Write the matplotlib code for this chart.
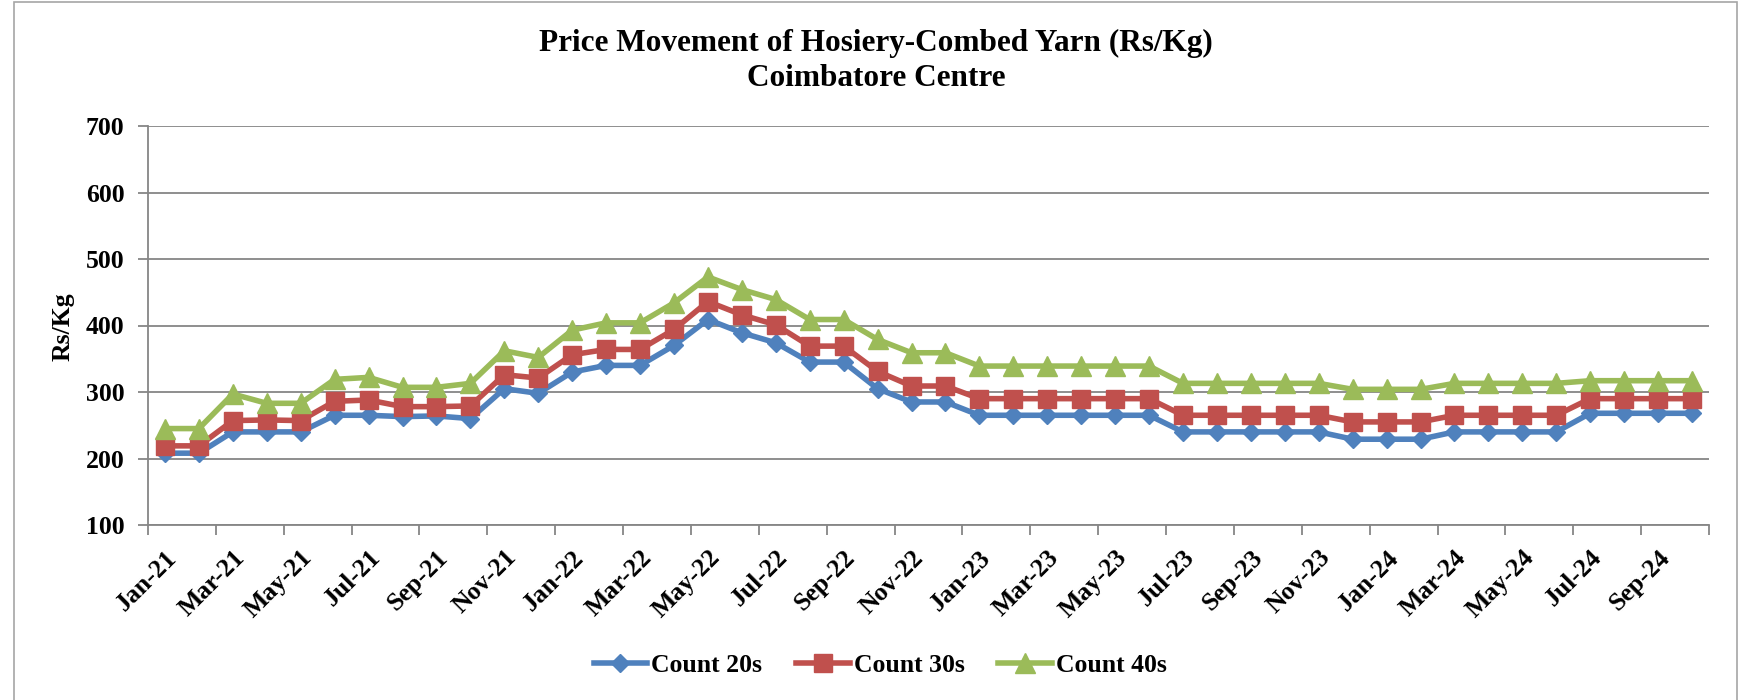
import matplotlib
matplotlib.use("Agg")
import matplotlib.pyplot as plt
from matplotlib.patches import Rectangle
import numpy as np

months = ["Jan-21","Feb-21","Mar-21","Apr-21","May-21","Jun-21","Jul-21","Aug-21","Sep-21","Oct-21","Nov-21","Dec-21",
          "Jan-22","Feb-22","Mar-22","Apr-22","May-22","Jun-22","Jul-22","Aug-22","Sep-22","Oct-22","Nov-22","Dec-22",
          "Jan-23","Feb-23","Mar-23","Apr-23","May-23","Jun-23","Jul-23","Aug-23","Sep-23","Oct-23","Nov-23","Dec-23",
          "Jan-24","Feb-24","Mar-24","Apr-24","May-24","Jun-24","Jul-24","Aug-24","Sep-24","Oct-24"]

count20 = [208, 208, 240, 240, 240, 265, 265, 263, 264, 260, 305, 298,
           330, 340, 340, 370, 409, 389, 374, 345, 345, 305, 285, 285,
           265, 265, 265, 265, 265, 265, 240, 240, 240, 240, 240, 229,
           229, 229, 240, 240, 240, 240, 268, 268, 268, 268]
count30 = [219, 219, 257, 258, 257, 286, 288, 278, 278, 279, 326, 321,
           356, 364, 364, 394, 436, 416, 401, 369, 369, 331, 309, 309,
           290, 290, 290, 290, 290, 290, 265, 265, 265, 265, 265, 255,
           255, 255, 265, 265, 265, 265, 290, 290, 290, 290]
count40 = [245, 245, 297, 283, 283, 319, 322, 307, 307, 313, 362, 352,
           393, 404, 404, 434, 473, 454, 439, 409, 409, 379, 359, 359,
           339, 339, 339, 339, 339, 339, 313, 313, 313, 313, 313, 304,
           304, 304, 313, 313, 313, 313, 317, 317, 317, 317]

series_names = ["Count 20s", "Count 30s", "Count 40s"]
yticks = [100, 200, 300, 400, 500, 600, 700]

plt.rcParams['font.family'] = ['Liberation Serif', 'DejaVu Serif']
plt.rcParams['font.weight'] = 'bold'

W, H = 1746, 700
FS = 18.5
fig = plt.figure(figsize=(W/100, H/100), dpi=100)
fig.patch.set_facecolor('white')

# chart border
fig.patches.append(Rectangle((14/W, -0.02), (1737-14)/W, 1.0 - 2/H + 0.02,
                             transform=fig.transFigure, fill=False,
                             edgecolor='#A6A6A6', lw=1.2))

ax = fig.add_axes([148/W, 1 - 525/H, (1709-148)/W, (525-126)/H])
x = np.arange(len(months))

ax.plot(x, count20, color='#4F81BD', lw=4, marker='D', markersize=9.5,
        label=series_names[0], zorder=3)
ax.plot(x, count30, color='#C0504D', lw=4, marker='s', markersize=13,
        label=series_names[1], zorder=3)
ax.plot(x, count40, color='#9BBB59', lw=4, marker='^', markersize=14,
        label=series_names[2], zorder=3)

ax.set_xlim(-0.5, len(months) - 0.5)
ax.set_ylim(100, 700)
ax.set_yticks(yticks)
ax.set_yticklabels([str(v) for v in yticks], fontsize=FS, fontweight='bold')
ax.yaxis.grid(True, color='#868686', lw=1.3)
ax.set_axisbelow(True)

ax.set_xticks(x[::2])
ax.set_xticklabels(months[::2], rotation=45, ha='right', va='top',
                   rotation_mode='anchor', fontsize=FS, fontweight='bold')
ax.set_xticks(np.arange(-0.5, len(months), 2), minor=True)
ax.tick_params(axis='x', which='major', length=0, pad=15)
ax.tick_params(axis='x', which='minor', length=7, width=1.3, color='#868686')
ax.tick_params(axis='y', length=7, width=1.3, color='#868686', pad=10)

for s in ['top', 'right']:
    ax.spines[s].set_visible(False)
for s in ['left', 'bottom']:
    ax.spines[s].set_color('#868686')
    ax.spines[s].set_linewidth(1.3)

fig.text(63/W, 1 - 327/H, 'Rs/Kg', rotation=90, ha='center', va='center',
         fontsize=FS, fontweight='bold')

fig.text(876/W, 1 - 43/H, 'Price Movement of Hosiery-Combed Yarn (Rs/Kg)',
         ha='center', va='center', fontsize=22.5, fontweight='bold')
fig.text(876/W, 1 - 78/H, 'Coimbatore Centre',
         ha='center', va='center', fontsize=22.5, fontweight='bold')

leg = fig.legend(loc='center', bbox_to_anchor=(880/W, 1 - 665/H), ncol=3,
                 frameon=False, prop={'family': 'Liberation Serif', 'weight': 'bold', 'size': FS},
                 handlelength=2.1, handletextpad=0.15, columnspacing=1.3)

fig.savefig('out.png', dpi=100)
